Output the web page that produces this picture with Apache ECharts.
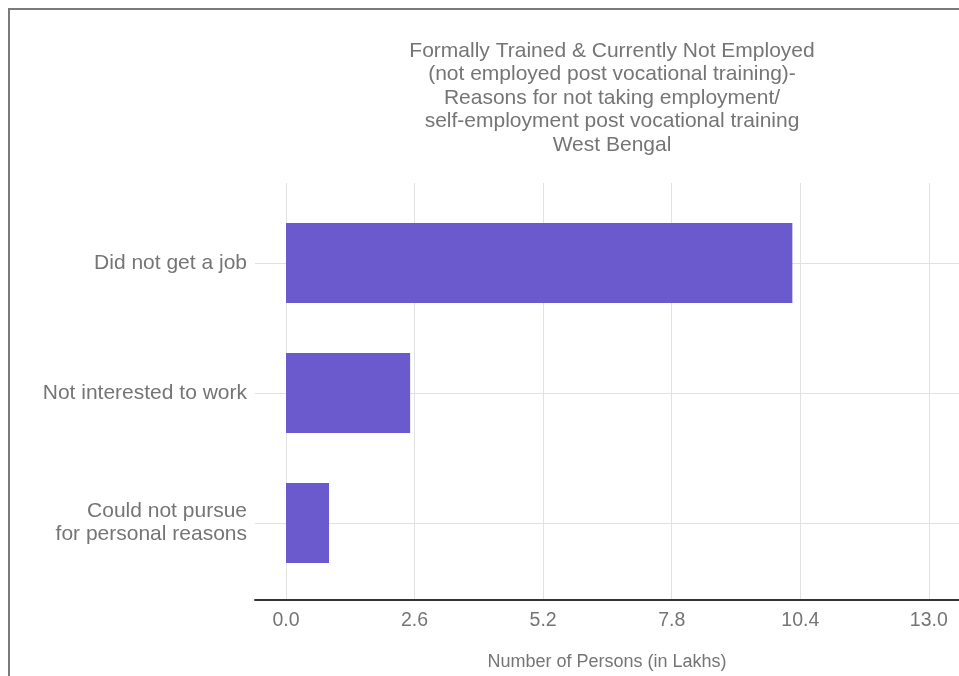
<!DOCTYPE html>
<html>
<head>
<meta charset="utf-8">
<script src="https://cdn.jsdelivr.net/npm/echarts@6/dist/echarts.min.js"></script>
<style>
html,body{margin:0;padding:0;background:#fff;}
#chart{width:959px;height:676px;}
</style>
</head>
<body>
<div id="chart"></div>
<script>
var titleLines = [
  'Formally Trained & Currently Not Employed',
  '(not employed post vocational training)-',
  'Reasons for not taking employment/',
  'self-employment post vocational training',
  'West Bengal'
];
var categories = ['Did not get a job', 'Not interested to work', 'Could not pursue\nfor personal reasons'];
var values = [10.24, 2.51, 0.87];
var tickValues = [0, 2.6, 5.2, 7.8, 10.4, 13.0];
var axisName = 'Number of Persons (in Lakhs)';

var xMin = -0.627, xMax = 13.61;
var textColor = '#757575';
var gridColor = '#e2e2e2';
var font = 'Liberation Sans, Arial, sans-serif';

var chart = echarts.init(document.getElementById('chart'));
chart.setOption({
  backgroundColor: '#fff',
  animation: false,
  title: {
    text: titleLines.join('\n'),
    left: 607,
    top: 34,
    textAlign: 'center',
    textStyle: {
      fontFamily: font,
      fontWeight: 'normal',
      fontSize: 21,
      lineHeight: 23.5,
      color: textColor
    }
  },
  graphic: [{
    type: 'rect',
    shape: {x: 9, y: 9, width: 1200, height: 1200},
    style: {fill: 'none', stroke: '#7a7a7a', lineWidth: 2},
    silent: true,
    z: 100
  }],
  grid: [
    {left: 255, right: 0, top: 183, bottom: 73, containLabel: false},
    {left: 255, right: 0, top: 263, bottom: 153, containLabel: false}
  ],
  xAxis: [{
    gridIndex: 0,
    type: 'value',
    min: xMin,
    max: xMax,
    name: axisName,
    nameLocation: 'middle',
    nameGap: 53,
    nameTextStyle: {fontFamily: font, fontSize: 18, color: textColor},
    axisLine: {show: true, lineStyle: {color: '#333', width: 2}},
    axisTick: {show: false, customValues: tickValues},
    axisLabel: {
      customValues: tickValues,
      margin: 11,
      fontFamily: font,
      fontSize: 19.5,
      color: textColor,
      formatter: function (v) { return Number(v).toFixed(1); }
    },
    splitLine: {show: true, lineStyle: {color: gridColor, width: 1}}
  }, {
    gridIndex: 1,
    type: 'value',
    min: xMin,
    max: xMax,
    show: false
  }],
  yAxis: [{
    gridIndex: 0,
    type: 'value',
    min: 0,
    max: 1,
    show: false
  }, {
    gridIndex: 1,
    type: 'category',
    data: categories,
    boundaryGap: false,
    inverse: true,
    axisLine: {show: false},
    axisTick: {show: false},
    axisLabel: {
      margin: 8,
      fontFamily: font,
      fontSize: 21,
      lineHeight: 23,
      color: textColor,
      align: 'right'
    },
    splitLine: {show: true, lineStyle: {color: gridColor, width: 1}}
  }],
  series: [{
    type: 'bar',
    xAxisIndex: 1,
    yAxisIndex: 1,
    data: values,
    barWidth: 80,
    clip: false,
    itemStyle: {color: '#6A5ACD'}
  }]
});
</script>
</body>
</html>
